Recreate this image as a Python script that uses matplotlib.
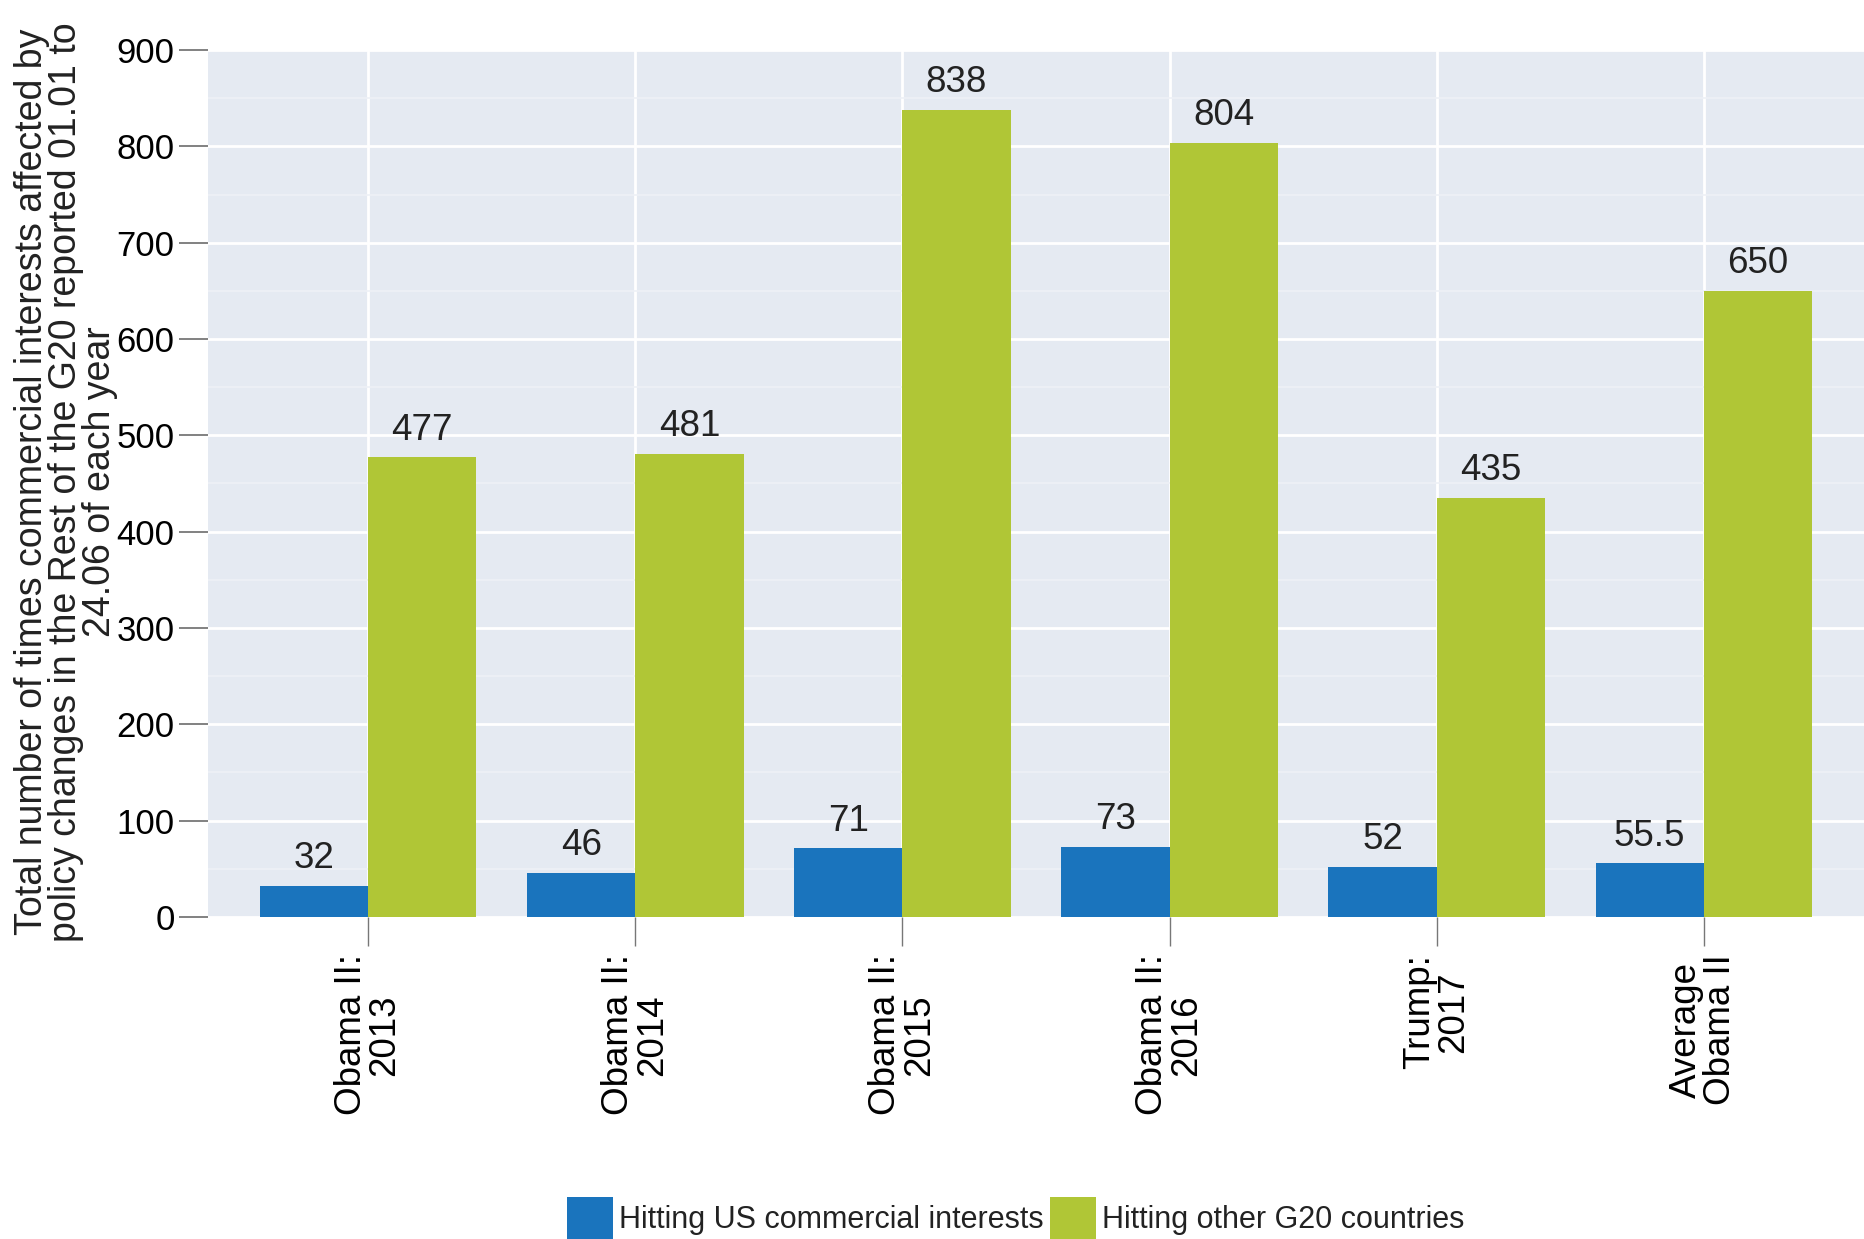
import numpy as np
import matplotlib.pyplot as plt
from matplotlib.ticker import MultipleLocator

plt.rcParams.update({
    "font.family": ["Liberation Sans", "DejaVu Sans"],
    "font.size": 24,
    "text.color": "#222222",
})

categories = ["Obama II:\n2013", "Obama II:\n2014", "Obama II:\n2015",
              "Obama II:\n2016", "Trump:\n2017", "Average\nObama II"]
us_hits = [32, 46, 71, 73, 52, 55.5]
g20_hits = [477, 481, 838, 804, 435, 650]
us_labels = ["32", "46", "71", "73", "52", "55.5"]
g20_labels = ["477", "481", "838", "804", "435", "650"]

blue = "#1a74bd"
green = "#b0c636"
panel = "#e5eaf2"

fig = plt.figure(figsize=(18.64, 12.39), dpi=100)
ax = fig.add_axes([0.1116, 0.26, 0.8884, 0.6996])

x = np.arange(len(categories))
w = 0.405

b1 = ax.bar(x - w / 2, us_hits, w, color=blue, label="Hitting US commercial interests", zorder=3)
b2 = ax.bar(x + w / 2, g20_hits, w, color=green, label="Hitting other G20 countries", zorder=3)

for bars, labels in ((b1, us_labels), (b2, g20_labels)):
    ax.bar_label(bars, labels=labels, padding=7, fontsize=26.5, color="#222222")

ax.set_facecolor(panel)
ax.set_xlim(-0.6, 5.6)
ax.set_ylim(0, 900)
ax.yaxis.set_major_locator(MultipleLocator(100))
ax.yaxis.set_minor_locator(MultipleLocator(50))
ax.grid(axis="y", which="major", color="white", linewidth=2, zorder=0)
ax.grid(axis="y", which="minor", color="#eef1f6", linewidth=1.2, zorder=0)
ax.grid(axis="x", which="major", color="white", linewidth=2, zorder=0)
ax.set_axisbelow(True)

for s in ax.spines.values():
    s.set_visible(False)

ax.set_xticks(x)
ax.set_xticklabels(categories, rotation=90, ha="center", va="top",
                   fontsize=26.5, linespacing=0.95)
ax.tick_params(axis="x", which="major", length=21, width=1, color="#777777", pad=6)
ax.tick_params(axis="y", which="major", length=21, width=1.3, color="#777777",
               pad=3, labelsize=25)
ax.tick_params(axis="y", which="minor", length=0)

fig.text(0.0355, 0.611,
         "Total number of times commercial interests affected by\n"
         "policy changes in the Rest of the G20 reported 01.01 to\n"
         "24.06 of each year",
         rotation=90, ha="center", va="center", multialignment="center",
         fontsize=27, linespacing=0.92)

fig.legend(handles=[b1, b2], loc="lower center", bbox_to_anchor=(0.545, -0.022),
           ncol=2, frameon=False, handlelength=1.5, handleheight=1.75,
           handletextpad=0.2, columnspacing=0.2,
           prop={"size": 22})

fig.savefig("out.png", dpi=100)
